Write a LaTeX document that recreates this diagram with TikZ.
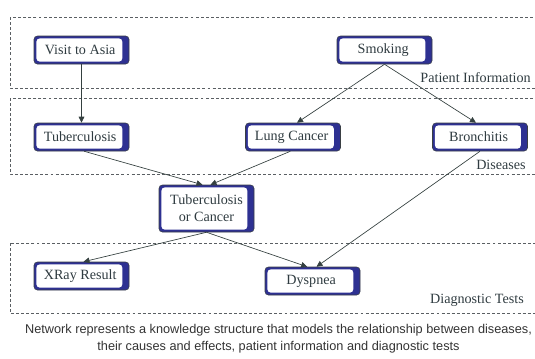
\documentclass[tikz,border=0pt]{standalone}
\usepackage{fontspec}
\setmainfont{Liberation Serif}
\setsansfont{Liberation Sans}
\usetikzlibrary{arrows.meta,positioning}
\definecolor{cBlue}  {HTML}{2E3192}
\definecolor{cEdge}  {HTML}{3A3F44}
\definecolor{cText}  {HTML}{2F3B40}
\definecolor{cLine}  {HTML}{34403F}
\definecolor{cGroup} {HTML}{5A5F63}
\definecolor{cCap}   {HTML}{333333}

\begin{document}
\begin{tikzpicture}[
  x=0.75pt, y=-0.75pt,
  font=\rmfamily\fontsize{10.6}{12.75}\selectfont,
  box/.style={
    draw=cEdge, line width=0.4pt, fill=cBlue, rounded corners=2.5pt,
    text=cText, align=center, inner sep=2pt,
    minimum width=71.25pt, minimum height=21pt,
    path picture={\fill[white]
      ([xshift=1.8pt,yshift=-1.8pt]path picture bounding box.north west) rectangle
      ([xshift=-5pt,yshift=1.8pt]path picture bounding box.south east);}},
  bigbox/.style={box, minimum height=35.25pt},
  group/.style={draw=cGroup, line width=0.5pt, dash pattern=on 2.2pt off 1.6pt},
  glabel/.style={text=cText, anchor=east, inner sep=0pt},
  ar/.style={-{Triangle[length=4.5pt,width=4.2pt]}, draw=cLine, line width=0.5pt},
]
\useasboundingbox (0,0) rectangle (535,358);
\clip (0,0) rectangle (535,358);

% ---------------------------------------------------------------- groups
\draw[group] (10,17)  rectangle (545,88);
\draw[group] (10,98)  rectangle (545,174);
\draw[group] (10,243) rectangle (545,313);

\node[glabel] (gpat) at (531,78)  {Patient Information};
\node[glabel] (gdis) at (526,165) {Diseases};
\node[glabel] (gdia) at (524,300) {Diagnostic Tests};

% ---------------------------------------------------------------- patient information
\node[box] (asia)  at (81.5,50)  {Visit to Asia\hspace*{2pt}};
\node[box] (smoke) at (384.5,50) {Smoking\hspace*{2pt}};

% ---------------------------------------------------------------- diseases
\node[box] (tub)   at (81.5,137)  {Tuberculosis\hspace*{2pt}};
\node[box] (lung)  at (293,137)   {Lung Cancer\hspace*{2pt}};
\node[box] (bron)  at (480,137)   {Bronchitis\hspace*{2pt}};

\node[bigbox] (either) at (206.5,208.5) {Tuberculosis\\or Cancer};

% ---------------------------------------------------------------- diagnostic tests
\node[box] (xray)  at (81.5,276)  {XRay Result\hspace*{2pt}};
\node[box] (dysp)  at (312.5,281) {Dyspnea\hspace*{2pt}};

% ---------------------------------------------------------------- arrows
\draw[ar] (asia)  -- (tub);
\draw[ar] (smoke.south) -- ([xshift=3pt]lung.north);
\draw[ar] (smoke.south) -- ([xshift=-3pt]bron.north);
\draw[ar] ([xshift=2pt]tub.south)   -- ([xshift=-3pt]either.north);
\draw[ar] ([xshift=-2pt]lung.south) -- ([xshift=3pt]either.north);
\draw[ar] (either.south) -- ([xshift=1.5pt]xray.north);
\draw[ar] (either.south) -- ([xshift=-4pt]dysp.north);
\draw[ar] (bron.south)   -- ([xshift=3pt]dysp.north);

% ---------------------------------------------------------------- caption
\node[font=\sffamily\fontsize{9.55}{12.75}\selectfont, text=cCap, align=center] (cap) at (278.5,338.5)
  {Network represents a knowledge structure that models the relationship between diseases,\\
   their causes and effects, patient information and diagnostic tests};

\end{tikzpicture}
\end{document}
